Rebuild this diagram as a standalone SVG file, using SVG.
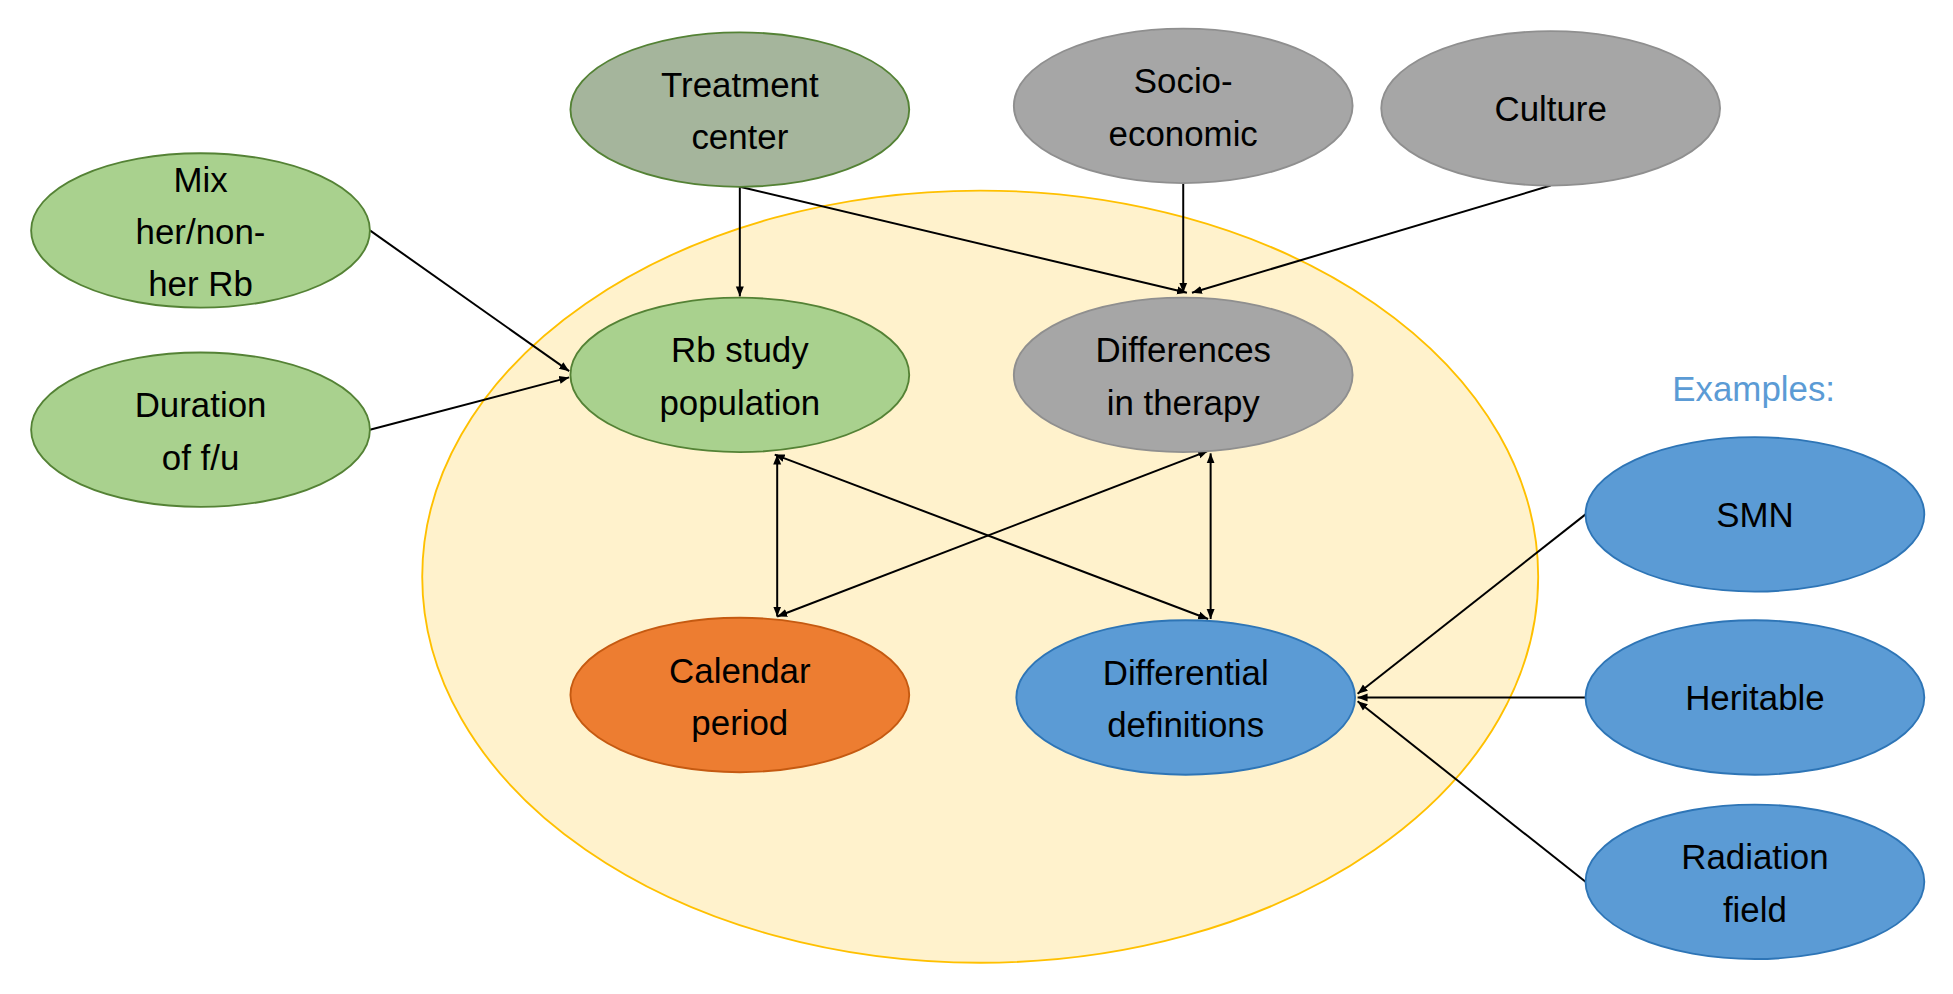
<svg xmlns="http://www.w3.org/2000/svg" width="1953" height="994" viewBox="0 0 1953 994">
<defs>
<style>
text{font-family:"Liberation Sans","Noto Sans",sans-serif;font-size:28px;fill:#000;text-anchor:middle}
.g{fill:#a9d18e;stroke:#548235;stroke-width:1.5}
.tc{fill:#a5b59c;stroke:#548235;stroke-width:1.5}
.gr{fill:#a6a6a6;stroke:#8f8f8f;stroke-width:1.5}
.o{fill:#ed7d31;stroke:#c55a11;stroke-width:1.5}
.b{fill:#5b9bd5;stroke:#2e75b6;stroke-width:1.5}
.c line{stroke:#000;stroke-width:1.6}
</style>
<marker id="a" viewBox="0 0 10 10" refX="10" refY="5" markerWidth="8" markerHeight="8" orient="auto-start-reverse" markerUnits="userSpaceOnUse"><path d="M0,1L10,5L0,9z" fill="#000"/></marker>
</defs>
<rect width="1953" height="994" fill="#fff"/>
<g transform="scale(1.2455)">
<g id="outer"><ellipse cx="787" cy="463" rx="448" ry="310" fill="#fff2cc" stroke="#ffc000" stroke-width="1.5"/></g>
<g class="c" id="connectors">
<line x1="594" y1="150" x2="594" y2="238" marker-end="url(#a)"/>
<line x1="594" y1="150" x2="953" y2="235" marker-end="url(#a)"/>
<line x1="950" y1="147" x2="950" y2="235" marker-end="url(#a)"/>
<line x1="1245" y1="149" x2="957" y2="235" marker-end="url(#a)"/>
<line x1="297" y1="185" x2="457" y2="298" marker-end="url(#a)"/>
<line x1="297" y1="345" x2="457" y2="303" marker-end="url(#a)"/>
<line x1="624" y1="365" x2="624" y2="495" marker-start="url(#a)" marker-end="url(#a)"/>
<line x1="622" y1="365" x2="970" y2="497" marker-start="url(#a)" marker-end="url(#a)"/>
<line x1="970" y1="362" x2="624" y2="495" marker-start="url(#a)" marker-end="url(#a)"/>
<line x1="972" y1="364" x2="972" y2="497" marker-start="url(#a)" marker-end="url(#a)"/>
<line x1="1273" y1="413" x2="1090" y2="557" marker-end="url(#a)"/>
<line x1="1273" y1="560" x2="1090" y2="560" marker-end="url(#a)"/>
<line x1="1273" y1="708" x2="1090" y2="563" marker-end="url(#a)"/>
</g>
<g id="treatment"><ellipse class="tc" cx="594" cy="88" rx="136" ry="62"/><text x="594" y="78">Treatment</text><text x="594" y="120">center</text></g>
<g id="socio"><ellipse class="gr" cx="950" cy="85" rx="136" ry="62"/><text x="950" y="75">Socio-</text><text x="950" y="117">economic</text></g>
<g id="culture"><ellipse class="gr" cx="1245" cy="87" rx="136" ry="62"/><text x="1245" y="97">Culture</text></g>
<g id="mix"><ellipse class="g" cx="161" cy="185" rx="136" ry="62"/><text x="161" y="154">Mix</text><text x="161" y="196">her/non-</text><text x="161" y="238">her Rb</text></g>
<g id="duration"><ellipse class="g" cx="161" cy="345" rx="136" ry="62"/><text x="161" y="335">Duration</text><text x="161" y="377">of f/u</text></g>
<g id="rb"><ellipse class="g" cx="594" cy="301" rx="136" ry="62"/><text x="594" y="291">Rb study</text><text x="594" y="333">population</text></g>
<g id="diff"><ellipse class="gr" cx="950" cy="301" rx="136" ry="62"/><text x="950" y="291">Differences</text><text x="950" y="333">in therapy</text></g>
<g id="calendar"><ellipse class="o" cx="594" cy="558" rx="136" ry="62"/><text x="594" y="548">Calendar</text><text x="594" y="590">period</text></g>
<g id="defs"><ellipse class="b" cx="952" cy="560" rx="136" ry="62"/><text x="952" y="550">Differential</text><text x="952" y="592">definitions</text></g>
<g id="examples"><text x="1408" y="322" style="fill:#5b9bd5">Examples:</text></g>
<g id="smn"><ellipse class="b" cx="1409" cy="413" rx="136" ry="62"/><text x="1409" y="423">SMN</text></g>
<g id="heritable"><ellipse class="b" cx="1409" cy="560" rx="136" ry="62"/><text x="1409" y="570">Heritable</text></g>
<g id="radiation"><ellipse class="b" cx="1409" cy="708" rx="136" ry="62"/><text x="1409" y="698">Radiation</text><text x="1409" y="740">field</text></g>
</g>
</svg>
